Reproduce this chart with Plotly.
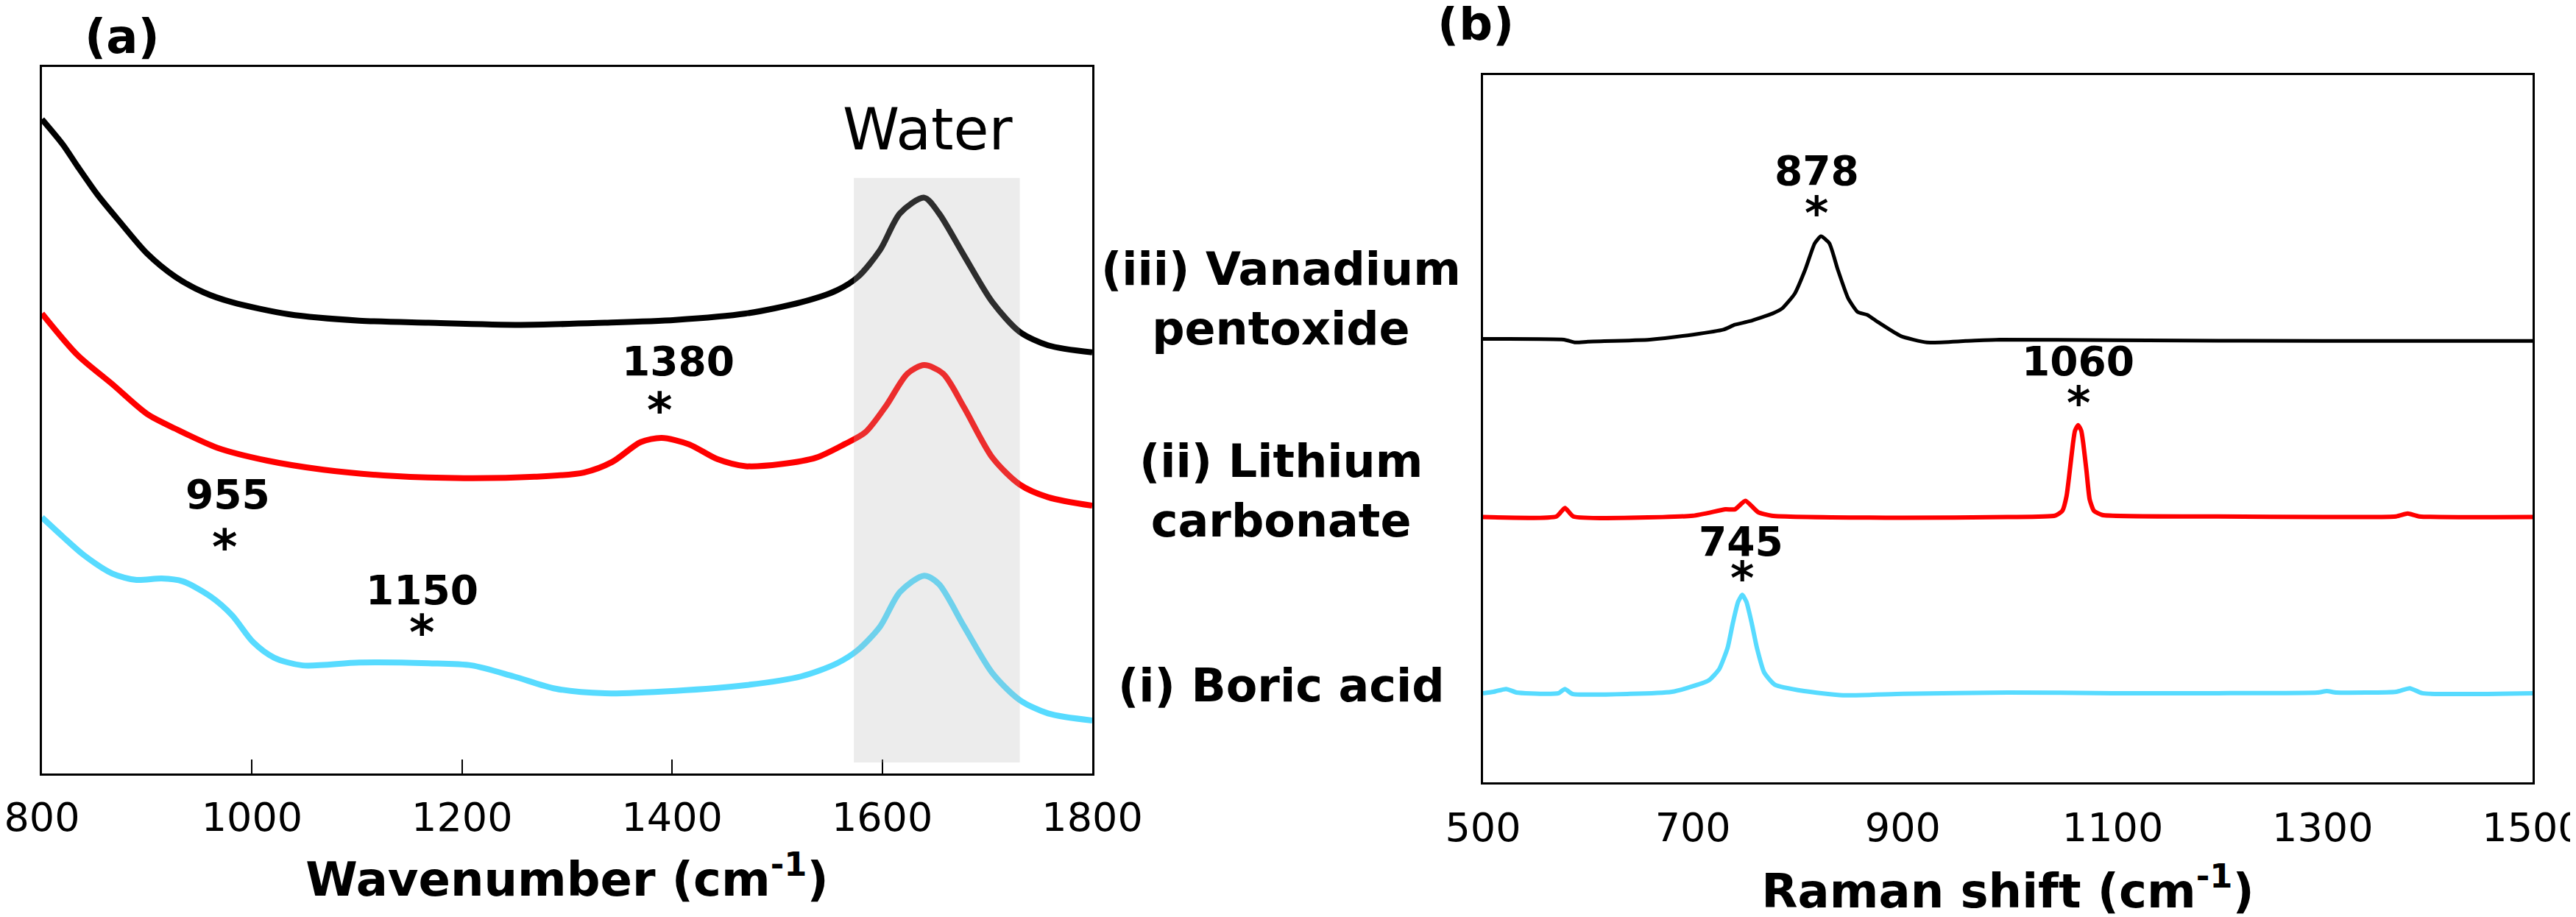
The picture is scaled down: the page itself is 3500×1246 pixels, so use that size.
import plotly.graph_objects as go

# ---------------- Panel (a): IR spectra ----------------
ir_x_black = [800, 820, 834, 853, 874, 900, 927, 954, 981, 1035, 1102, 1168, 1256, 1336, 1403, 1470,
              1523, 1557, 1577, 1598, 1617, 1640, 1654, 1678, 1705, 1731, 1758, 1800]
ir_black = [0.926, 0.890, 0.859, 0.819, 0.781, 0.736, 0.703, 0.681, 0.667, 0.650, 0.641, 0.638, 0.635,
            0.638, 0.642, 0.651, 0.667, 0.684, 0.703, 0.741, 0.793, 0.815, 0.793, 0.733, 0.667, 0.625,
            0.606, 0.596]

ir_x_red = [800, 834, 867, 900, 927, 967, 1014, 1068, 1135, 1202, 1269, 1316, 1343, 1370, 1390, 1416,
            1443, 1470, 1504, 1537, 1564, 1584, 1604, 1624, 1640, 1658, 1678, 1705, 1731, 1758, 1800]
ir_red = [0.651, 0.592, 0.551, 0.509, 0.488, 0.461, 0.443, 0.430, 0.421, 0.418, 0.420, 0.426, 0.441,
          0.469, 0.475, 0.466, 0.445, 0.435, 0.438, 0.447, 0.466, 0.483, 0.521, 0.566, 0.578, 0.566,
          0.518, 0.447, 0.409, 0.391, 0.379]

ir_x_cyan = [800, 820, 840, 867, 890, 914, 934, 961, 981, 1001, 1021, 1048, 1102, 1168, 1209, 1249,
             1289, 1336, 1403, 1470, 1523, 1557, 1577, 1598, 1617, 1640, 1654, 1678, 1705, 1731, 1758, 1800]
ir_cyan = [0.3625, 0.335, 0.309, 0.283, 0.274, 0.276, 0.272, 0.250, 0.224, 0.186, 0.164, 0.153, 0.157,
           0.156, 0.153, 0.1375, 0.120, 0.1135, 0.117, 0.125, 0.1375, 0.156, 0.175, 0.208, 0.257, 0.280,
           0.268, 0.208, 0.142, 0.104, 0.085, 0.075]

ir_ticks = [800, 1000, 1200, 1400, 1600, 1800]
water_band = [1573, 1731]
water_height = [0.0156, 0.843]

ir_peak_labels = ["1380", "955", "1150"]
ir_peak_label_x = [1406, 977, 1162]
ir_peak_label_y = [0.570, 0.381, 0.246]
ir_star_x = [1388, 974, 1162]
ir_star_y = [0.509, 0.315, 0.194]

# ---------------- Panel (b): Raman spectra ----------------
ra_x_black = [500, 577, 588, 600, 659, 700, 729, 740, 754, 776, 785, 797, 807, 816, 822, 830, 838,
              848, 857, 866, 876, 898, 923, 960, 992, 1100, 1300, 1500]
ra_black = [0.627, 0.626, 0.622, 0.623, 0.626, 0.633, 0.640, 0.647, 0.652, 0.663, 0.670, 0.691, 0.725,
            0.762, 0.772, 0.762, 0.725, 0.684, 0.665, 0.661, 0.651, 0.631, 0.622, 0.624, 0.626, 0.625,
            0.624, 0.624]

ra_x_red = [500, 570, 578, 586, 700, 731, 740, 750, 762, 775, 900, 1000, 1045, 1052, 1056, 1059, 1062,
            1064, 1067, 1070, 1072, 1075, 1078, 1082, 1090, 1200, 1300, 1370, 1381, 1392, 1500]
ra_red = [0.375, 0.376, 0.388, 0.376, 0.377, 0.386, 0.386, 0.398, 0.382, 0.377, 0.374, 0.375, 0.377,
          0.384, 0.405, 0.440, 0.478, 0.497, 0.505, 0.497, 0.478, 0.440, 0.400, 0.384, 0.378, 0.376,
          0.375, 0.376, 0.380, 0.376, 0.375]

ra_x_cyan = [500, 510, 522, 532, 560, 572, 578, 585, 640, 680, 696, 715, 725, 733, 738, 743, 747, 751,
             756, 761, 768, 778, 806, 843, 900, 1000, 1100, 1200, 1295, 1304, 1313, 1370, 1383, 1395, 1500]
ra_cyan = [0.126, 0.128, 0.132, 0.127, 0.125, 0.126, 0.132, 0.125, 0.125, 0.128, 0.134, 0.144, 0.160,
           0.190, 0.225, 0.255, 0.265, 0.255, 0.225, 0.190, 0.155, 0.138, 0.129, 0.123, 0.125, 0.127,
           0.126, 0.126, 0.127, 0.129, 0.127, 0.128, 0.133, 0.126, 0.126]

ra_ticks = [500, 700, 900, 1100, 1300, 1500]

ra_peak_labels = ["878", "1060", "745"]
ra_peak_label_x = [818, 1067, 746]
ra_peak_label_y = [0.853, 0.584, 0.329]
ra_star_x = [818, 1067, 747]
ra_star_y = [0.800, 0.531, 0.284]

sample_names = ["(iii) Vanadium<br>pentoxide", "(ii) Lithium<br>carbonate", "(i) Boric acid"]
sample_name_y = [0.667, 0.398, 0.1265]

BLACK = "#000000"
RED = "#ff0000"
CYAN = "#57dbff"
FONT = "DejaVu Sans"

fig = go.Figure()

# panel a traces
for xs, ys, c in [(ir_x_black, ir_black, BLACK), (ir_x_red, ir_red, RED), (ir_x_cyan, ir_cyan, CYAN)]:
    fig.add_trace(go.Scatter(x=xs, y=ys, mode="lines", line=dict(color=c, width=8, shape="spline", smoothing=0.8),
                             xaxis="x", yaxis="y", showlegend=False, hoverinfo="skip"))

# panel b traces
for xs, ys, c, w in [(ra_x_black, ra_black, BLACK, 5), (ra_x_red, ra_red, RED, 6), (ra_x_cyan, ra_cyan, CYAN, 6)]:
    fig.add_trace(go.Scatter(x=xs, y=ys, mode="lines", line=dict(color=c, width=w, shape="spline", smoothing=0.5),
                             xaxis="x2", yaxis="y2", showlegend=False, hoverinfo="skip"))

# water band (semi-transparent overlay above lines)
fig.add_shape(type="rect", xref="x", yref="y", x0=water_band[0], x1=water_band[1],
              y0=water_height[0], y1=water_height[1], fillcolor="rgba(180,180,180,0.25)",
              line=dict(width=0), layer="above")

ann = []
ann.append(dict(xref="x", yref="y", x=sum(water_band) / 2 - 8, y=0.901, text="Water", showarrow=False,
                xanchor="center", yanchor="middle", yshift=10,
                font=dict(family=FONT, size=78, color="#000")))
for t, x, y in zip(ir_peak_labels, ir_peak_label_x, ir_peak_label_y):
    ann.append(dict(xref="x", yref="y", x=x, y=y, text="<b>%s</b>" % t, showarrow=False,
                    xanchor="center", yanchor="middle", yshift=13,
                    font=dict(family=FONT, size=55, color="#000")))
for x, y in zip(ir_star_x, ir_star_y):
    ann.append(dict(xref="x", yref="y", x=x, y=y, text="<b>*</b>", showarrow=False, yshift=5,
                    xanchor="center", yanchor="middle",
                    font=dict(family=FONT, size=66, color="#000")))
for t, x, y in zip(ra_peak_labels, ra_peak_label_x, ra_peak_label_y):
    ann.append(dict(xref="x2", yref="y2", x=x, y=y, text="<b>%s</b>" % t, showarrow=False,
                    xanchor="center", yanchor="middle", yshift=11,
                    font=dict(family=FONT, size=55, color="#000")))
for x, y in zip(ra_star_x, ra_star_y):
    ann.append(dict(xref="x2", yref="y2", x=x, y=y, text="<b>*</b>", showarrow=False, yshift=5,
                    xanchor="center", yanchor="middle",
                    font=dict(family=FONT, size=62, color="#000")))
for t, y in zip(sample_names, sample_name_y):
    ann.append(dict(xref="paper", yref="paper", x=0.4976, y=y, text="<b>%s</b>" % t, showarrow=False,
                    align="center", xanchor="center", yanchor="middle", yshift=9,
                    font=dict(family=FONT, size=62, color="#000")))
ann.append(dict(xref="paper", yref="paper", x=(158 - 49) / 3384, y=1.0 + (83 - 42) / 972, text="<b>(a)</b>",
                showarrow=False, xanchor="center", yanchor="middle",
                font=dict(family=FONT, size=64, color="#000")))
ann.append(dict(xref="paper", yref="paper", x=(1997 - 49) / 3384, y=1.0 + (83 - 24) / 972, text="<b>(b)</b>",
                showarrow=False, xanchor="center", yanchor="middle",
                font=dict(family=FONT, size=64, color="#000")))

axis_common = dict(showline=True, linecolor="#000", linewidth=3, mirror=True, showgrid=False,
                   zeroline=False, automargin=False)

fig.update_layout(
    width=3500, height=1246,
    margin=dict(l=49, r=67, t=83, b=191),
    paper_bgcolor="white", plot_bgcolor="white",
    font=dict(family=FONT, color="#000"),
    xaxis=dict(domain=[0, 0.4217], range=[800, 1800], tickvals=ir_ticks, ticks="inside", ticklen=19,
               tickwidth=2, tickcolor="#000", ticklabelstandoff=10, ticklabeloverflow="allow",
               tickfont=dict(family=FONT, size=54, color="#000"),
               title=dict(text="<b>Wavenumber (cm<sup>-1</sup>)</b>", standoff=32,
                          font=dict(family=FONT, size=64, color="#000")), anchor="y", **axis_common),
    yaxis=dict(domain=[0.01235, 1.0], range=[0, 1], showticklabels=False, ticks="", anchor="x",
               **axis_common),
    xaxis2=dict(domain=[0.5786, 1.0], range=[500, 1500], tickvals=ra_ticks, ticks="", ticklabelstandoff=12,
                ticklabeloverflow="allow",
                tickfont=dict(family=FONT, size=54, color="#000"),
                title=dict(text="<b>Raman shift (cm<sup>-1</sup>)</b>", standoff=34,
                           font=dict(family=FONT, size=64, color="#000")), anchor="y2", **axis_common),
    yaxis2=dict(domain=[0.0, 0.98868], range=[0, 1], showticklabels=False, ticks="", anchor="x2",
                **axis_common),
    annotations=ann,
)

fig.write_html("out.html")
